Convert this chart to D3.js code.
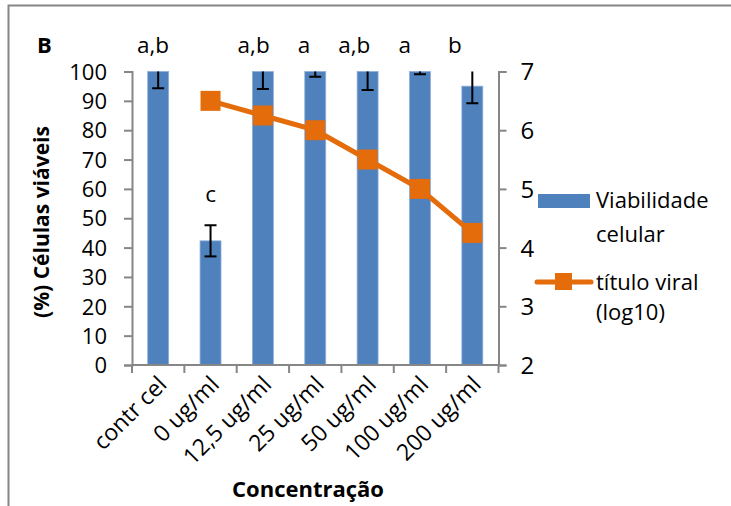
<!DOCTYPE html>
<html>
<head>
<meta charset="utf-8">
<script src="https://cdn.jsdelivr.net/npm/d3@7"></script>
<style>
  body { margin: 0; background: #fff; }
  svg text { font-family: "Open Sans", sans-serif; fill: #000; }
</style>
</head>
<body>
<svg width="731" height="506"></svg>
<script>
// data
const categorias = ['contr cel', '0 ug/ml', '12,5 ug/ml', '25 ug/ml', '50 ug/ml', '100 ug/ml', '200 ug/ml'];
const viabilidade = [100, 42.3, 100, 100, 100, 100, 95];
const erro = [5.7, 5.3, 6, 1.8, 6.3, 0.9, 5.8];
const titulo = [null, 6.5, 6.25, 6.0, 5.5, 5.0, 4.25];
const letras = ['a,b', 'c', 'a,b', 'a', 'a,b', 'a', 'b'];
const ticksEsq = [0, 10, 20, 30, 40, 50, 60, 70, 80, 90, 100];
const ticksDir = [2, 3, 4, 5, 6, 7];

const azul = '#4f81bd', laranja = '#e46c0a', cinza = '#868686';
const mLeft = 132, mRight = 498.5, mTop = 71.5, mBottom = 365;
const svg = d3.select('svg');

// outer frame of the figure
svg.append('path')
  .attr('d', 'M8.5,506 V5.5 H731')
  .attr('fill', 'none').attr('stroke', cinza).attr('stroke-width', 2);

const x = d3.scaleBand().domain(categorias).range([mLeft, mRight])
  .paddingInner(0.6).paddingOuter(0.3);
const y = d3.scaleLinear().domain([0, 100]).range([mBottom, mTop]);
const y2 = d3.scaleLinear().domain([2, 7]).range([mBottom, mTop]);
const cx = (d) => x(d) + x.bandwidth() / 2;

svg.append('clipPath').attr('id', 'area')
  .append('rect').attr('x', mLeft).attr('y', mTop).attr('width', mRight - mLeft).attr('height', mBottom - mTop);

// bars
svg.append('g').selectAll('rect')
  .data(categorias)
  .enter().append('rect')
  .attr('x', (d) => x(d))
  .attr('y', (d, i) => y(viabilidade[i]))
  .attr('width', x.bandwidth())
  .attr('height', (d, i) => mBottom - y(viabilidade[i]))
  .attr('fill', azul)
  .attr('stroke', '#8eaedb').attr('stroke-width', 0.8);

// error bars
const eb = svg.append('g').attr('clip-path', 'url(#area)')
  .attr('stroke', '#000').attr('stroke-width', 2);
categorias.forEach((c, i) => {
  const lo = y(viabilidade[i] - erro[i]), hi = y(viabilidade[i] + erro[i]);
  eb.append('line').attr('x1', cx(c)).attr('x2', cx(c)).attr('y1', lo).attr('y2', hi);
  eb.append('line').attr('x1', cx(c) - 6).attr('x2', cx(c) + 6).attr('y1', lo).attr('y2', lo);
  eb.append('line').attr('x1', cx(c) - 6).attr('x2', cx(c) + 6).attr('y1', hi).attr('y2', hi);
});

// axes
const axisStyle = (g) => {
  g.select('.domain').attr('stroke', cinza).attr('stroke-width', 2);
  g.selectAll('.tick line').attr('stroke', cinza).attr('stroke-width', 2);
  g.selectAll('.tick text').style('font-family', '"Open Sans", sans-serif').attr('fill', '#000');
};

svg.append('g')
  .attr('transform', `translate(${mLeft},0)`)
  .call(d3.axisLeft(y).tickValues(ticksEsq).tickSize(8).tickSizeOuter(8).tickPadding(17))
  .call(axisStyle)
  .call((g) => g.selectAll('.tick text').style('font-size', '22px').attr('dy', '0.35em'));

svg.append('g')
  .attr('transform', `translate(${mRight},0)`)
  .call(d3.axisRight(y2).tickValues(ticksDir).tickFormat(d3.format('d'))
    .tickSize(8).tickSizeOuter(8).tickPadding(14))
  .call(axisStyle)
  .call((g) => g.selectAll('.tick text').style('font-size', '24px').attr('dy', '0.35em'));

// bottom axis, ticks between categories
const xb = svg.append('g').attr('stroke', cinza).attr('stroke-width', 2);
xb.append('line').attr('x1', mLeft).attr('x2', mRight).attr('y1', mBottom).attr('y2', mBottom);
d3.range(categorias.length + 1).forEach((i) => {
  const px = mLeft + i * x.step();
  xb.append('line').attr('x1', px).attr('x2', px).attr('y1', mBottom).attr('y2', mBottom + 8);
});

svg.append('g').selectAll('text')
  .data(categorias)
  .enter().append('text')
  .attr('transform', (d) => `translate(${cx(d) + 10},${mBottom + 21}) rotate(-45)`)
  .attr('text-anchor', 'end')
  .style('font-size', '23px')
  .text((d) => d);

// viral titer line
const pontos = categorias.map((c, i) => [c, titulo[i]]).filter((d) => d[1] != null);
svg.append('path')
  .datum(pontos)
  .attr('fill', 'none').attr('stroke', laranja).attr('stroke-width', 5)
  .attr('d', d3.line().x((d) => cx(d[0])).y((d) => y2(d[1])));
svg.append('g').selectAll('rect')
  .data(pontos)
  .enter().append('rect')
  .attr('x', (d) => cx(d[0]) - 10).attr('y', (d) => y2(d[1]) - 10)
  .attr('width', 20).attr('height', 20)
  .attr('fill', laranja);

// significance letters (the top row sits on its own slightly narrower spacing)
const xl = d3.scalePoint().domain(categorias).range([153, 455]);
svg.append('g').selectAll('text')
  .data(letras)
  .enter().append('text')
  .attr('x', (d, i) => viabilidade[i] < 90 ? cx(categorias[i]) : xl(categorias[i]))
  .attr('y', (d, i) => viabilidade[i] < 90 ? y(viabilidade[i] + erro[i]) - 23 : 53)
  .attr('text-anchor', 'middle')
  .style('font-size', '22.5px')
  .text((d) => d);

svg.append('text').attr('x', 37).attr('y', 53)
  .style('font-size', '22px').style('font-weight', 'bold').text('B');

// axis titles
svg.append('text')
  .attr('transform', `translate(49,222) rotate(-90)`)
  .attr('text-anchor', 'middle')
  .style('font-size', '21px').style('font-weight', 'bold')
  .text('(%) Células viáveis');

svg.append('text')
  .attr('x', 308).attr('y', 497)
  .attr('text-anchor', 'middle')
  .style('font-size', '22px').style('font-weight', 'bold')
  .text('Concentração');

// legend
const lg = svg.append('g');
lg.append('rect').attr('x', 538).attr('y', 194).attr('width', 52).attr('height', 14).attr('fill', azul);
lg.append('line').attr('x1', 537).attr('x2', 591).attr('y1', 282).attr('y2', 282)
  .attr('stroke', laranja).attr('stroke-width', 5).attr('stroke-linecap', 'round');
lg.append('rect').attr('x', 555).attr('y', 273).attr('width', 17).attr('height', 17).attr('fill', laranja);
[['Viabilidade', 208], ['celular', 242], ['título viral', 290], ['(log10)', 320]].forEach((t) => {
  lg.append('text').attr('x', 596).attr('y', t[1]).style('font-size', '22px').text(t[0]);
});
</script>
</body>
</html>
